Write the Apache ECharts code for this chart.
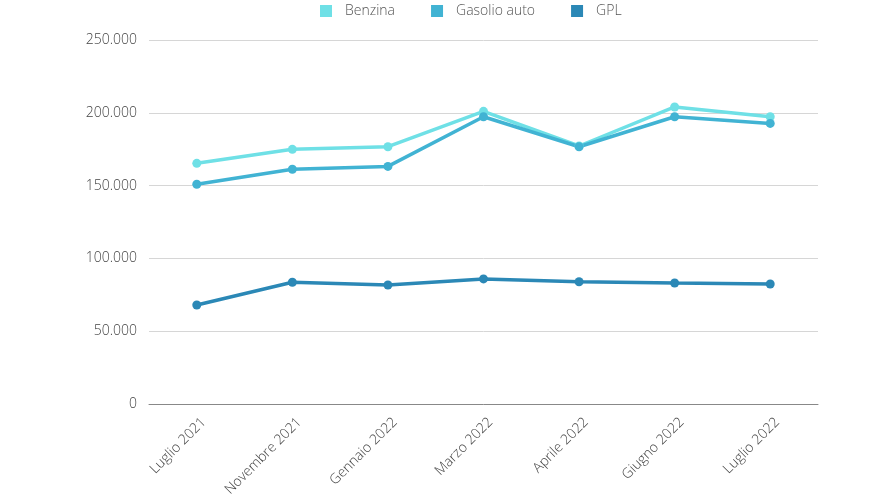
<!DOCTYPE html>
<html><head><meta charset="utf-8">
<script src="https://cdn.jsdelivr.net/npm/echarts@6/dist/echarts.min.js"></script>
<style>html,body{margin:0;padding:0;background:#fff}#c{width:870px;height:500px}</style>
</head><body><div id="c"></div>
<script>
const categories = ["Luglio 2021","Novembre 2021","Gennaio 2022","Marzo 2022","Aprile 2022","Giugno 2022","Luglio 2022"];
const benzina = [165300, 174900, 176700, 201000, 177200, 204000, 197300];
const gasolio = [150900, 161200, 163200, 197300, 176700, 197300, 192700];
const gpl = [68000, 83600, 81700, 85900, 84000, 83100, 82400];
const seriesNames = ["Benzina","Gasolio auto","GPL"];
const colors = ["#6fe0e6","#41b3d3","#2b88b6"];

const chart = echarts.init(document.getElementById('c'));
const fmt = v => String(v).replace(/\B(?=(\d{3})+(?!\d))/g, '.');
const mk = (name, data, i) => ({
  name, type: 'line', data, color: colors[i],
  symbol: 'circle', symbolSize: 9,
  lineStyle: {width: 3.5, color: colors[i]},
  itemStyle: {color: colors[i]}
});
const font = 'Open Sans';
chart.setOption({
  animation: false,
  textStyle: {fontFamily: font},
  legend: {
    top: -1, left: 315, itemWidth: 12, itemHeight: 12, itemGap: 36, icon: 'rect',
    textStyle: {color: '#555', fontSize: 14, fontFamily: font, fontWeight: 300, padding: [0, 0, 0, 8]},
    data: seriesNames
  },
  grid: {left: 149, right: 52, top: 40, bottom: 96, containLabel: false, outerBoundsMode: 'none'},
  xAxis: {
    type: 'category', data: categories, boundaryGap: true,
    axisLine: {lineStyle: {color: '#888', width: 1}},
    axisTick: {show: false},
    axisLabel: {rotate: 45, color: '#444', fontSize: 14, fontWeight: 300, margin: 23, interval: 0, fontFamily: font, padding: [0, -10, 0, 0]}
  },
  yAxis: {
    type: 'value', min: 0, max: 250000, interval: 50000,
    axisLine: {show: false}, axisTick: {show: false},
    splitLine: {lineStyle: {color: '#d6d6d6', width: 1}},
    axisLabel: {color: '#444', fontSize: 14, fontWeight: 300, margin: 12, formatter: fmt, fontFamily: font}
  },
  series: [mk(seriesNames[0], benzina, 0), mk(seriesNames[1], gasolio, 1), mk(seriesNames[2], gpl, 2)]
});
</script></body></html>
